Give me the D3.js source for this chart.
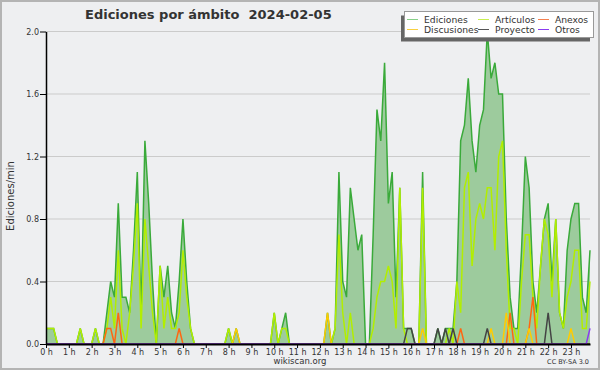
<!DOCTYPE html>
<html>
<head>
<meta charset="UTF-8">
<script src="https://d3js.org/d3.v7.min.js"></script>
<style>
    body { margin: 0; background: #fff; }
    text { font-family: "DejaVu Sans", sans-serif; fill: #333; }
</style>
<title>Ediciones por ámbito</title>
</head>
<body>
<svg width="600" height="370"></svg>
<script>
// ediciones/min, una muestra cada 10 minutos (144 por día)
var ediciones = [
    0.1,0.1,0.1,0,0,0, 0,0,0,0.1,0,0, 0,0.1,0,0,0.2,0.4, 0.3,0.9,0.3,0.3,0.2,0.6,
    1.1,0.2,1.3,0.9,0.4,0, 0.5,0.3,0.5,0.2,0.1,0.4, 0.8,0.4,0.1,0,0,0, 0,0,0,0,0,0,
    0.1,0,0.1,0,0,0, 0,0,0,0,0,0, 0.2,0,0.1,0.2,0,0, 0,0,0,0,0,0,
    0,0,0.2,0,0.1,1.1, 0.4,0.3,1.0,0.8,0.6,0.7, 0,0,0.7,1.5,1.3,1.8, 0.9,1.1,0.3,1.0,0.1,0.1,
    0.1,0,0,1.1,0,0, 0,0.1,0,0.1,0.1,0.1, 0.4,1.3,1.4,1.7,1.3,1.1, 1.4,1.5,2.0,1.7,1.8,1.6,
    1.6,0.8,0.3,0.1,0.1,0.6, 1.2,1.0,0.4,0.2,0.5,0.8, 0.9,0.4,0.8,0.2,0.1,0.6, 0.8,0.9,0.9,0.3,0.2,0.6
];
var articulos = [
    0.1,0.1,0.1,0,0,0, 0,0,0,0.1,0,0, 0,0.1,0,0,0.1,0.3, 0.1,0.6,0.1,0,0.2,0.5,
    0.9,0.1,0.8,0.5,0.2,0, 0.5,0.1,0.3,0.1,0.1,0.2, 0.6,0.3,0.1,0,0,0, 0,0,0,0,0,0,
    0.1,0,0,0,0,0, 0,0,0,0,0,0, 0.2,0,0.1,0.1,0,0, 0,0,0,0,0,0,
    0,0,0,0,0.1,0.7, 0.2,0,0.2,0,0,0, 0,0,0.1,0.3,0.4,0.4, 0.5,0.4,0.1,1.0,0.1,0,
    0,0,0,1.0,0,0, 0,0,0,0,0.1,0, 0.4,0.2,1.0,1.1,0.5,0.8, 0.9,0.8,1.0,1.0,0.6,1.2,
    1.3,0.6,0.1,0.1,0,0.4, 0.7,0.7,0.3,0.1,0.5,0.8, 0.7,0.3,0.8,0.2,0.1,0.3, 0.4,0.6,0.6,0.1,0.1,0.4
];
var anexos = [
    0,0,0,0,0,0, 0,0,0,0,0,0, 0,0,0,0,0.1,0.1, 0,0.2,0,0,0,0,
    0,0,0,0,0,0, 0,0,0,0,0,0.1, 0,0,0,0,0,0, 0,0,0,0,0,0,
    0,0,0,0,0,0, 0,0,0,0,0,0, 0,0,0,0,0,0, 0,0,0,0,0,0,
    0,0,0,0,0,0, 0,0,0,0,0,0, 0,0,0,0,0,0, 0,0,0,0,0,0,
    0,0,0,0,0,0, 0,0,0,0,0,0, 0,0.1,0,0,0,0, 0,0,0,0,0,0,
    0,0,0.2,0,0,0, 0,0.1,0.3,0,0,0, 0,0,0,0,0,0, 0,0,0,0,0,0
];
var discusiones = [
    0,0,0,0,0,0, 0,0,0,0,0,0, 0,0,0,0,0,0, 0,0,0,0,0,0,
    0,0,0,0,0,0, 0,0,0,0,0,0, 0,0,0,0,0,0, 0,0,0,0,0,0,
    0,0,0.1,0,0,0, 0,0,0,0,0,0, 0,0,0,0,0,0, 0,0,0,0,0,0,
    0,0,0.2,0,0,0, 0,0,0,0,0,0, 0,0,0,0,0,0, 0,0,0,0,0,0,
    0,0,0,0.1,0,0, 0,0,0,0,0,0, 0,0,0,0,0,0, 0,0,0,0.1,0,0,
    0,0.2,0,0,0,0, 0,0.1,0,0,0,0, 0,0,0,0,0,0, 0.1,0,0,0,0,0
];
var proyecto = [
    0,0,0,0,0,0, 0,0,0,0,0,0, 0,0,0,0,0,0, 0,0,0,0,0,0,
    0,0,0,0,0,0, 0,0,0,0,0,0, 0,0,0,0,0,0, 0,0,0,0,0,0,
    0,0,0,0,0,0, 0,0,0,0,0,0, 0,0,0,0,0,0, 0,0,0,0,0,0,
    0,0,0,0,0,0, 0,0,0,0,0,0, 0,0,0,0,0,0, 0,0,0,0,0,0.1,
    0.1,0,0,0,0,0, 0,0.1,0,0.1,0,0.1, 0,0,0,0,0,0, 0,0,0.1,0,0,0,
    0,0,0,0,0,0, 0,0,0,0,0,0, 0.2,0,0,0,0,0, 0,0,0,0,0,0
];
var otros = [
    0,0,0,0,0,0, 0,0,0,0,0,0, 0,0,0,0,0,0, 0,0,0,0,0,0,
    0,0,0,0,0,0, 0,0,0,0,0,0, 0,0,0,0,0,0, 0,0,0,0,0,0,
    0,0,0,0,0,0, 0,0,0,0,0,0, 0,0,0,0,0,0, 0,0,0,0,0,0,
    0,0,0,0,0,0, 0,0,0,0,0,0, 0,0,0,0,0,0, 0,0,0,0,0,0,
    0,0,0,0,0,0, 0,0,0,0,0,0, 0,0,0,0,0,0, 0,0,0,0,0,0,
    0,0,0,0,0,0, 0,0,0,0,0,0, 0,0,0,0,0,0, 0,0,0,0,0,0.1
];
var horas = d3.range(0, 24);
var yTicks = [0, 0.4, 0.8, 1.2, 1.6, 2.0];

var series = [
    { nombre: "Ediciones", datos: ediciones, color: "#3aaa3a", leyenda: "#88d088" },
    { nombre: "Artículos", datos: articulos, color: "#b2ee00", leyenda: "#c8ee50" },
    { nombre: "Anexos", datos: anexos, color: "#ff6611", leyenda: "#f48050" },
    { nombre: "Discusiones", datos: discusiones, color: "#ffcc00", leyenda: "#f8d040" },
    { nombre: "Proyecto", datos: proyecto, color: "#444444", leyenda: "#555555" },
    { nombre: "Otros", datos: otros, color: "#8a3cf0", leyenda: "#8a3cf0" }
];

var svg = d3.select("svg");

svg.append("rect")
    .attr("x", 1).attr("y", 1)
    .attr("width", 598).attr("height", 368)
    .attr("fill", "#eeeff1")
    .attr("stroke", "#b4b4b4")
    .attr("stroke-width", 2);

var x = d3.scaleLinear().domain([0, 143]).range([46, 590]);
var y = d3.scaleLinear().domain([0, 2]).range([344, 31.5]);

// rejilla
svg.append("g").selectAll("line")
    .data(yTicks.filter(function(d) { return d > 0; }))
    .enter().append("line")
    .attr("x1", 46).attr("x2", 590)
    .attr("y1", function(d) { return y(d); })
    .attr("y2", function(d) { return y(d); })
    .attr("stroke", "#cbcbcb")
    .attr("stroke-width", 1);

// área de ediciones
var area = d3.area()
    .x(function(d, i) { return x(i); })
    .y0(y(0))
    .y1(function(d) { return y(d); });

svg.append("path")
    .datum(ediciones)
    .attr("d", area)
    .attr("fill", "#9dcb9d");

var linea = d3.line()
    .x(function(d, i) { return x(i); })
    .y(function(d) { return y(d); });

series.forEach(function(s) {
    svg.append("path")
        .datum(s.datos)
        .attr("d", linea)
        .attr("fill", "none")
        .attr("stroke", s.color)
        .attr("stroke-width", 1.5)
        .attr("stroke-linejoin", "miter");
});

// eje X
var gx = svg.append("g").attr("transform", "translate(0,344)");
gx.call(d3.axisBottom(x)
    .tickValues(d3.range(0, 144, 2))
    .tickFormat("")
    .tickSize(3)
    .tickSizeOuter(0));
gx.call(d3.axisBottom(x)
    .tickValues(horas.map(function(h) { return h * 6; }))
    .tickFormat(function(d) { return (d / 6) + " h"; })
    .tickSize(4)
    .tickSizeOuter(0));
gx.selectAll("path").attr("stroke", "#000").attr("stroke-width", 2);
gx.selectAll("line").attr("stroke", "#000");
gx.selectAll("text")
    .attr("font-size", "8px")
    .attr("font-family", "DejaVu Sans")
    .attr("fill", "#333")
    .attr("dy", "0.55em");

// eje Y
var gy = svg.append("g").attr("transform", "translate(46,0)");
gy.call(d3.axisLeft(y)
    .tickValues(d3.range(0, 21).map(function(d) { return d / 10; }))
    .tickFormat("")
    .tickSize(3)
    .tickSizeOuter(0));
gy.call(d3.axisLeft(y)
    .tickValues(yTicks)
    .tickFormat(d3.format(".1f"))
    .tickSize(6)
    .tickSizeOuter(0));
gy.selectAll("path").attr("stroke", "#000").attr("stroke-width", 1.5);
gy.selectAll("line").attr("stroke", "#000");
gy.selectAll("text")
    .attr("font-size", "8px")
    .attr("font-family", "DejaVu Sans")
    .attr("fill", "#444")
    .attr("x", -7);

svg.append("text")
    .attr("transform", "translate(14,196) rotate(-90)")
    .attr("text-anchor", "middle")
    .attr("font-family", "DejaVu Sans Mono")
    .attr("font-size", "10px")
    .attr("fill", "#222")
    .text("Ediciones/min");

// título
svg.append("text")
    .attr("x", 85).attr("y", 19)
    .attr("font-family", "Liberation Sans")
    .attr("font-weight", "bold")
    .attr("font-size", "13px")
    .attr("fill", "#111")
    .attr("xml:space", "preserve")
    .style("white-space", "pre")
    .text("Ediciones por ámbito  2024-02-05");

svg.append("text")
    .attr("x", 300).attr("y", 364)
    .attr("text-anchor", "middle")
    .attr("font-size", "8.5px")
    .attr("fill", "#333")
    .text("wikiscan.org");

svg.append("text")
    .attr("x", 589).attr("y", 364)
    .attr("text-anchor", "end")
    .attr("font-size", "6.5px")
    .attr("fill", "#444")
    .text("CC BY-SA 3.0");

// leyenda
var leyenda = svg.append("g");
leyenda.append("rect")
    .attr("x", 401).attr("y", 15.5)
    .attr("width", 189).attr("height", 26)
    .attr("fill", "#666");
leyenda.append("rect")
    .attr("x", 404.5).attr("y", 11.5)
    .attr("width", 189).attr("height", 26)
    .attr("fill", "#fff")
    .attr("stroke", "#999");

var colX = [407, 478, 538];
var filaY = [19.5, 29.5];
var posLeyenda = [[0, 0], [1, 0], [2, 0], [0, 1], [1, 1], [2, 1]];
series.forEach(function(s, k) {
    var c = posLeyenda[k][0], f = posLeyenda[k][1];
    leyenda.append("line")
        .attr("x1", colX[c]).attr("x2", colX[c] + 11)
        .attr("y1", filaY[f]).attr("y2", filaY[f])
        .attr("stroke", s.leyenda)
        .attr("stroke-width", 1);
    leyenda.append("text")
        .attr("x", colX[c] + 17).attr("y", filaY[f] + 3.3)
        .attr("font-size", "9.2px")
        .attr("fill", "#333")
        .text(s.nombre);
});
</script>
</body>
</html>
